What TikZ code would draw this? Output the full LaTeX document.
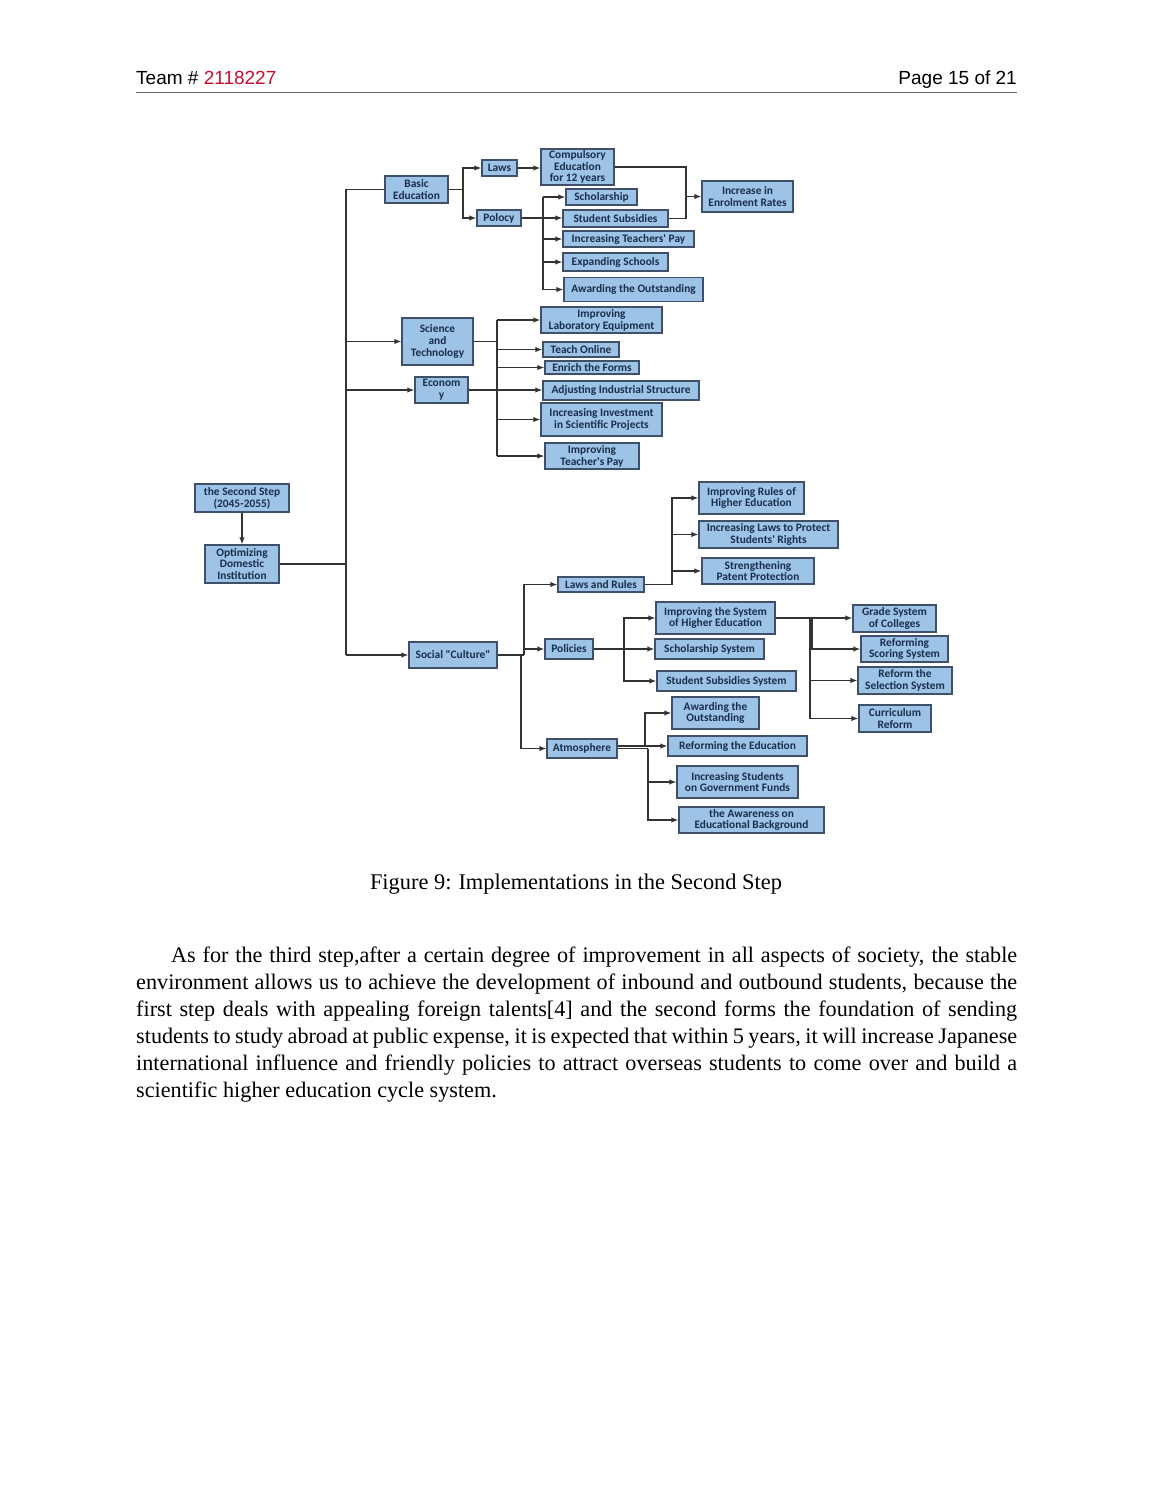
\documentclass[tikz,border=0pt]{standalone}
\usepackage{fontspec}
\setmainfont{Liberation Serif}
\newfontfamily\hdrfont{Liberation Sans}
\newfontfamily\boxfont{Carlito}
\usetikzlibrary{arrows.meta}
\definecolor{boxfill}{HTML}{9DC3E6}
\definecolor{boxline}{HTML}{40506A}
\definecolor{boxtext}{HTML}{182E4A}
\definecolor{lncol}{HTML}{333333}
\definecolor{teamred}{HTML}{C8102E}
\tikzset{
 bx/.style={draw=boxline, line width=1.3pt, fill=boxfill, text=boxtext, font=\boxfont\bfseries\fontsize{11.4}{11.8}\selectfont, align=center, inner sep=0pt},
 ln/.style={draw=lncol, line width=1.3pt},
 ar/.style={ln, -{Latex[length=7pt,width=5.5pt]}},
 bodytext/.style={inner sep=0pt, anchor=base west, font=\fontsize{22.2}{27}\selectfont},
}
\newcommand\bxn[6]{\node[bx, minimum width=#4pt, minimum height=#5pt] (#1) at (#2,#3) {#6};}
\begin{document}
\begin{tikzpicture}[x=1pt,y=-1pt]
\fill[white] (0,0) rectangle (1153,1492);
\useasboundingbox (0,0) rectangle (1153,1492);
% header
\node[inner sep=0pt, anchor=base west, font=\hdrfont\fontsize{19}{23}\selectfont] (team) at (136,84) {Team \# \textcolor{teamred}{2118227}};
\node[inner sep=0pt, anchor=base east, font=\hdrfont\fontsize{19}{23}\selectfont] (page) at (1017,84) {Page 15 of 21};
\draw[draw=gray!80!black, line width=0.9pt] (136,92) -- (1017,92);
% bus coordinates
\coordinate (busA) at (346,0);
\coordinate (busB) at (463,0);
\coordinate (busC) at (543,0);
\coordinate (busD) at (686,0);
\coordinate (busE) at (497,0);
\coordinate (busF) at (524,0);
\coordinate (busF2) at (521,0);
\coordinate (busG) at (672,0);
\coordinate (busH) at (624,0);
\coordinate (busI) at (810,0);
\coordinate (busJ) at (645,0);
\coordinate (busK) at (648,0);
% boxes
\bxn{sec}{242}{498}{94}{28}{the Second Step\\(2045-2055)}
\bxn{opt}{242}{564}{74}{38}{Optimizing\\Domestic\\Institution}
\bxn{basic}{416.5}{189.5}{63}{27}{Basic\\Education}
\bxn{laws}{499.5}{168}{35}{16}{Laws}
\bxn{comp}{577.5}{167}{73}{36}{Compulsory\\Education\\for 12 years}
\bxn{incr}{747.5}{196.5}{91}{31}{Increase in\\Enrolment Rates}
\bxn{schol}{601.5}{197}{71}{16}{Scholarship}
\bxn{polocy}{499}{218}{44}{16}{Polocy}
\bxn{subs}{615.5}{218.5}{105}{17}{Student Subsidies}
\bxn{pay}{628.5}{239}{131}{16}{Increasing Teachers' Pay}
\bxn{expand}{615.5}{262}{105}{18}{Expanding Schools}
\bxn{award1}{633.5}{289.5}{139}{24}{Awarding the Outstanding}
\bxn{sci}{437.5}{341.5}{71}{47}{Science\\and\\Technology}
\bxn{econ}{441.5}{390}{53}{26}{Econom\\y}
\bxn{lab}{601.5}{320}{121}{26}{Improving\\Laboratory Equipment}
\bxn{online}{581}{349.5}{76}{15}{Teach Online}
\bxn{enrich}{592}{367.5}{94}{13}{Enrich the Forms}
\bxn{adjust}{621}{390.5}{156}{19}{Adjusting Industrial Structure}
\bxn{invest}{601.5}{419.5}{121}{33}{Increasing Investment\\in Scientific Projects}
\bxn{tpay}{592}{456}{94}{26}{Improving\\Teacher's Pay}
\bxn{rules}{751.5}{498}{105}{32}{Improving Rules of\\Higher Education}
\bxn{protect}{768.5}{534.5}{139}{27}{Increasing Laws to Protect\\Students' Rights}
\bxn{patent}{758}{571}{112}{26}{Strengthening\\Patent Protection}
\bxn{lawsr}{601}{584.5}{86}{15}{Laws and Rules}
\bxn{social}{453}{655}{88}{26}{Social "Culture"}
\bxn{policies}{569}{649}{48}{20}{Policies}
\bxn{impsys}{715.5}{618}{119}{32}{Improving the System\\of Higher Education}
\bxn{scholsys}{709.5}{649}{109}{20}{Scholarship System}
\bxn{subsys}{726.5}{681}{139}{20}{Student Subsidies System}
\bxn{grade}{894.5}{618.5}{83}{27}{Grade System\\of Colleges}
\bxn{scoring}{904.5}{649}{87}{26}{Reforming\\Scoring System}
\bxn{selection}{905}{680.5}{94}{27}{Reform the\\Selection System}
\bxn{curric}{895}{718.5}{72}{27}{Curriculum\\Reform}
\bxn{atm}{582}{748.5}{70}{19}{Atmosphere}
\bxn{award2}{715.5}{713}{87}{32}{Awarding the\\Outstanding}
\bxn{reform}{737.5}{746}{139}{20}{Reforming the Education}
\bxn{govt}{737.5}{782}{121}{32}{Increasing Students\\on Government Funds}
\bxn{aware}{751.5}{820}{145}{26}{the Awareness on\\Educational Background}
% main trunk
\draw[ar] (sec) -- (opt);
\draw[ln] (opt.east) -- (opt.east -| busA);
\draw[ln] (basic.west) -| (social.west -| busA);
\draw[ar] (sci.west -| busA) -- (sci.west);
\draw[ar] (econ.west -| busA) -- (econ.west);
\draw[ar] (social.west -| busA) -- (social.west);
% basic education
\draw[ln] (basic.east) -- (basic.east -| busB);
\draw[ar] (basic.east -| busB) |- (laws.west);
\draw[ar] (basic.east -| busB) |- (polocy.west);
\draw[ar] (laws.east) -- (laws.east -| comp.west);
\draw[ln] (comp.east) -| (busD |- subs.east) -- (subs.east);
\draw[ar] (incr.west -| busD) -- (incr.west);
\draw[ar] (polocy.east) -- (polocy.east -| subs.west);
\draw[ar] (schol.west -| busC) -- (schol.west);
\draw[ln] (schol.west -| busC) -- (award1.west -| busC);
\draw[ar] (pay.west -| busC) -- (pay.west);
\draw[ar] (expand.west -| busC) -- (expand.west);
\draw[ar] (award1.west -| busC) -- (award1.west);
% science and economy
\draw[ln] (sci.east) -- (sci.east -| busE);
\draw[ln] (lab.west -| busE) -- (tpay.west -| busE);
\draw[ar] (lab.west -| busE) -- (lab.west);
\draw[ar] (online.west -| busE) -- (online.west);
\draw[ar] (enrich.west -| busE) -- (enrich.west);
\draw[ar] (invest.west -| busE) -- (invest.west);
\draw[ar] (tpay.west -| busE) -- (tpay.west);
\draw[ar] (econ.east) -- (econ.east -| adjust.west);
% social culture
\draw[ln] (social.east) -- (social.east -| busF);
\draw[ar] (social.east -| busF) |- (lawsr.west);
\draw[ar] (policies.west -| busF) -- (policies.west);
\draw[ar] (social.east -| busF2) |- (atm.west);
% laws and rules
\draw[ln] (lawsr.east) -- (lawsr.east -| busG);
\draw[ar] (lawsr.east -| busG) |- (rules.west);
\draw[ar] (lawsr.east -| busG) |- (protect.west);
\draw[ar] (lawsr.east -| busG) |- (patent.west);
% policies
\draw[ln] (policies.east) -- (policies.east -| busH);
\draw[ar] (policies.east -| busH) |- (impsys.west);
\draw[ar] (policies.east -| busH) -- (scholsys.west);
\draw[ar] (policies.east -| busH) |- (subsys.west);
\draw[ar] (impsys.east) -- (impsys.east -| grade.west);
\draw[ar] (impsys.east -| busI) |- (scoring.west);
\draw[ar] (impsys.east -| busI) |- (selection.west);
\draw[ar] (impsys.east -| busI) |- (curric.west);
\draw[ln, line width=2.4pt] ([xshift=1.5pt]impsys.east -| busI) -- ([xshift=1.5pt]scoring.west -| busI);
% atmosphere
\draw[ar] (reform.west -| atm.east) -- (reform.west);
\draw[ar] (reform.west -| busJ) |- (award2.west);
\draw[ln] (atm.east) -- (atm.east -| busK);
\draw[ar] (atm.east -| busK) |- (aware.west);
\draw[ar] (govt.west -| busK) -- (govt.west);
% caption
\node[inner sep=0pt, anchor=base, font=\fontsize{22.4}{27}\selectfont] (cap) at (576,889) {Figure 9:\hspace{7pt}Implementations in the Second Step};
% paragraph
\node[bodytext] (p1) at (171,962) {\makebox[846pt][s]{As for the third step,after a certain degree of improvement in all aspects of society, the stable}};
\node[bodytext] (p2) at (136,989) {\makebox[881pt][s]{environment allows us to achieve the development of inbound and outbound students, because the}};
\node[bodytext] (p3) at (136,1016) {\makebox[881pt][s]{first step deals with appealing foreign talents[4] and the second forms the foundation of sending}};
\node[bodytext] (p4) at (136,1043) {\makebox[881pt][s]{students to study abroad at public expense, it is expected that within 5 years, it will increase Japanese}};
\node[bodytext] (p5) at (136,1070) {\makebox[881pt][s]{international influence and friendly policies to attract overseas students to come over and build a}};
\node[bodytext] (p6) at (136,1097) {scientific higher education cycle system.};
\end{tikzpicture}
\end{document}
